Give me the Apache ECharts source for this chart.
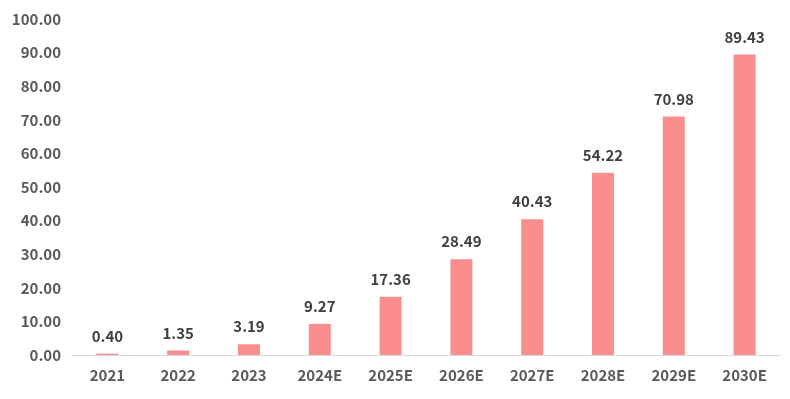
<!DOCTYPE html>
<html>
<head>
<meta charset="utf-8">
<script src="https://cdn.jsdelivr.net/npm/echarts@6/dist/echarts.min.js"></script>
<style>
	html, body { margin: 0; padding: 0; background: #fff; }
	#chart { width: 790px; height: 399px; }
</style>
</head>
<body>
<div id="chart"></div>
<script>
// categories along the x axis
var years = ['2021', '2022', '2023', '2024E', '2025E', '2026E', '2027E', '2028E', '2029E', '2030E'];

// bar values
var values = [0.40, 1.35, 3.19, 9.27, 17.36, 28.49, 40.43, 54.22, 70.98, 89.43];

var font = '"Noto Sans CJK SC", "Noto Sans", sans-serif';

var chart = echarts.init(document.getElementById('chart'));

chart.setOption({
	animation: false,
	grid: { left: 72, right: 10, top: 19, bottom: 44 },
	xAxis: {
		type: 'category',
		data: years,
		axisLine: { lineStyle: { color: '#d9d9d9', width: 1 } },
		axisTick: { show: false },
		axisLabel: {
			color: '#595959',
			fontFamily: font,
			fontWeight: 'bold',
			fontSize: 15,
			margin: 13
		}
	},
	yAxis: {
		type: 'value',
		min: 0,
		max: 100,
		interval: 10,
		splitLine: { show: false },
		axisLine: { show: false },
		axisTick: { show: false },
		axisLabel: {
			color: '#595959',
			fontFamily: font,
			fontWeight: 'bold',
			fontSize: 15,
			margin: 11,
			formatter: v => v.toFixed(2)
		}
	},
	series: [{
		type: 'bar',
		data: values,
		barWidth: 22,
		itemStyle: { color: '#fa8e8e' },
		label: {
			show: true,
			position: 'top',
			distance: 10,
			color: '#404040',
			fontFamily: font,
			fontWeight: 'bold',
			fontSize: 15,
			formatter: p => p.value.toFixed(2)
		}
	}]
});
</script>
</body>
</html>
